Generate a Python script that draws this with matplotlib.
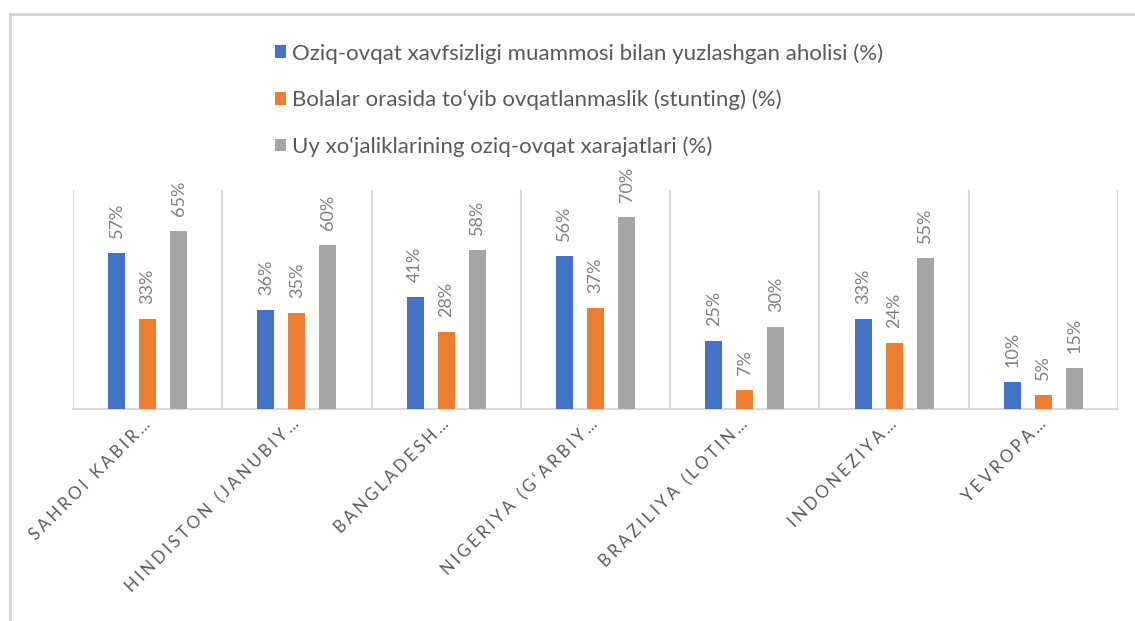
import matplotlib
matplotlib.use("Agg")
import matplotlib.pyplot as plt
from matplotlib.lines import Line2D
import numpy as np

plt.rcParams['font.family'] = ['Lato', 'DejaVu Sans']

categories = ["SAHROI KABIR…", "HINDISTON (JANUBIY…", "BANGLADESH…",
              "NIGERIYA (G‘ARBIY…", "BRAZILIYA (LOTIN…", "INDONEZIYA…", "YEVROPA…"]
series_names = ["Oziq-ovqat xavfsizligi muammosi bilan yuzlashgan aholisi (%)",
                "Bolalar orasida to‘yib ovqatlanmaslik (stunting) (%)",
                "Uy xo‘jaliklarining oziq-ovqat xarajatlari (%)"]
food_insecurity = [57, 36, 41, 56, 25, 33, 10]
stunting = [33, 35, 28, 37, 7, 24, 5]
food_spending = [65, 60, 58, 70, 30, 55, 15]

colors = ["#4472C4", "#ED7D31", "#A5A5A5"]
W, H = 1135, 621
fig = plt.figure(figsize=(W / 100, H / 100), dpi=100)

# outer chart border (left and top edges only are visible)
fig.add_artist(Line2D([9.5 / W, 9.5 / W], [0, 1 - 13.5 / H], transform=fig.transFigure,
                      color="#d4d4d4", linewidth=2))
fig.add_artist(Line2D([9.5 / W, 1], [1 - 13.5 / H, 1 - 13.5 / H], transform=fig.transFigure,
                      color="#d4d4d4", linewidth=2))

ax = fig.add_axes([73 / W, 1 - 409 / H, (1118 - 73) / W, (409 - 190) / H])
x = np.arange(len(categories))
bw = 0.114
off = 0.208
all_series = [food_insecurity, stunting, food_spending]
for i, (vals, name, c) in enumerate(zip(all_series, series_names, colors)):
    bars = ax.bar(x + (i - 1) * off, vals, width=bw, color=c, label=name, zorder=3)
    for b, v in zip(bars, vals):
        ax.annotate(f"{v}%", (b.get_x() + b.get_width() / 2, b.get_height()),
                    xytext=(0, 15), textcoords="offset pixels", rotation=90,
                    ha="center", va="bottom", fontsize=13, color="#808080")

ax.set_xlim(-0.5, len(categories) - 0.5)
ax.set_ylim(0, 80)
ax.set_yticks([])
for s in ["top", "left", "right"]:
    ax.spines[s].set_visible(False)
ax.spines["bottom"].set_color("#d9d9d9")
ax.spines["bottom"].set_linewidth(1.5)
ax.set_xticks(np.arange(-0.5, len(categories)), minor=True)
ax.grid(which="minor", axis="x", color="#d9d9d9", linewidth=1.5, zorder=0)
ax.tick_params(which="both", length=0)
spaced = ["\u2009\u200a".join(list(c)) for c in categories]
ax.set_xticks(x)
ax.set_xticklabels(spaced, rotation=45, ha="right", va="center", rotation_mode="anchor",
                   fontsize=12, color="#595959")
ax.tick_params(axis="x", pad=9)

leg = ax.legend(loc="upper left", bbox_to_anchor=(264 / W, 1 - 32 / H),
                bbox_transform=fig.transFigure, frameon=False, fontsize=16,
                handlelength=0.5, handleheight=0.5, handletextpad=0.25,
                labelspacing=1.17, borderpad=0)
for t in leg.get_texts():
    t.set_color("#595959")

fig.savefig("out.png", dpi=100)
